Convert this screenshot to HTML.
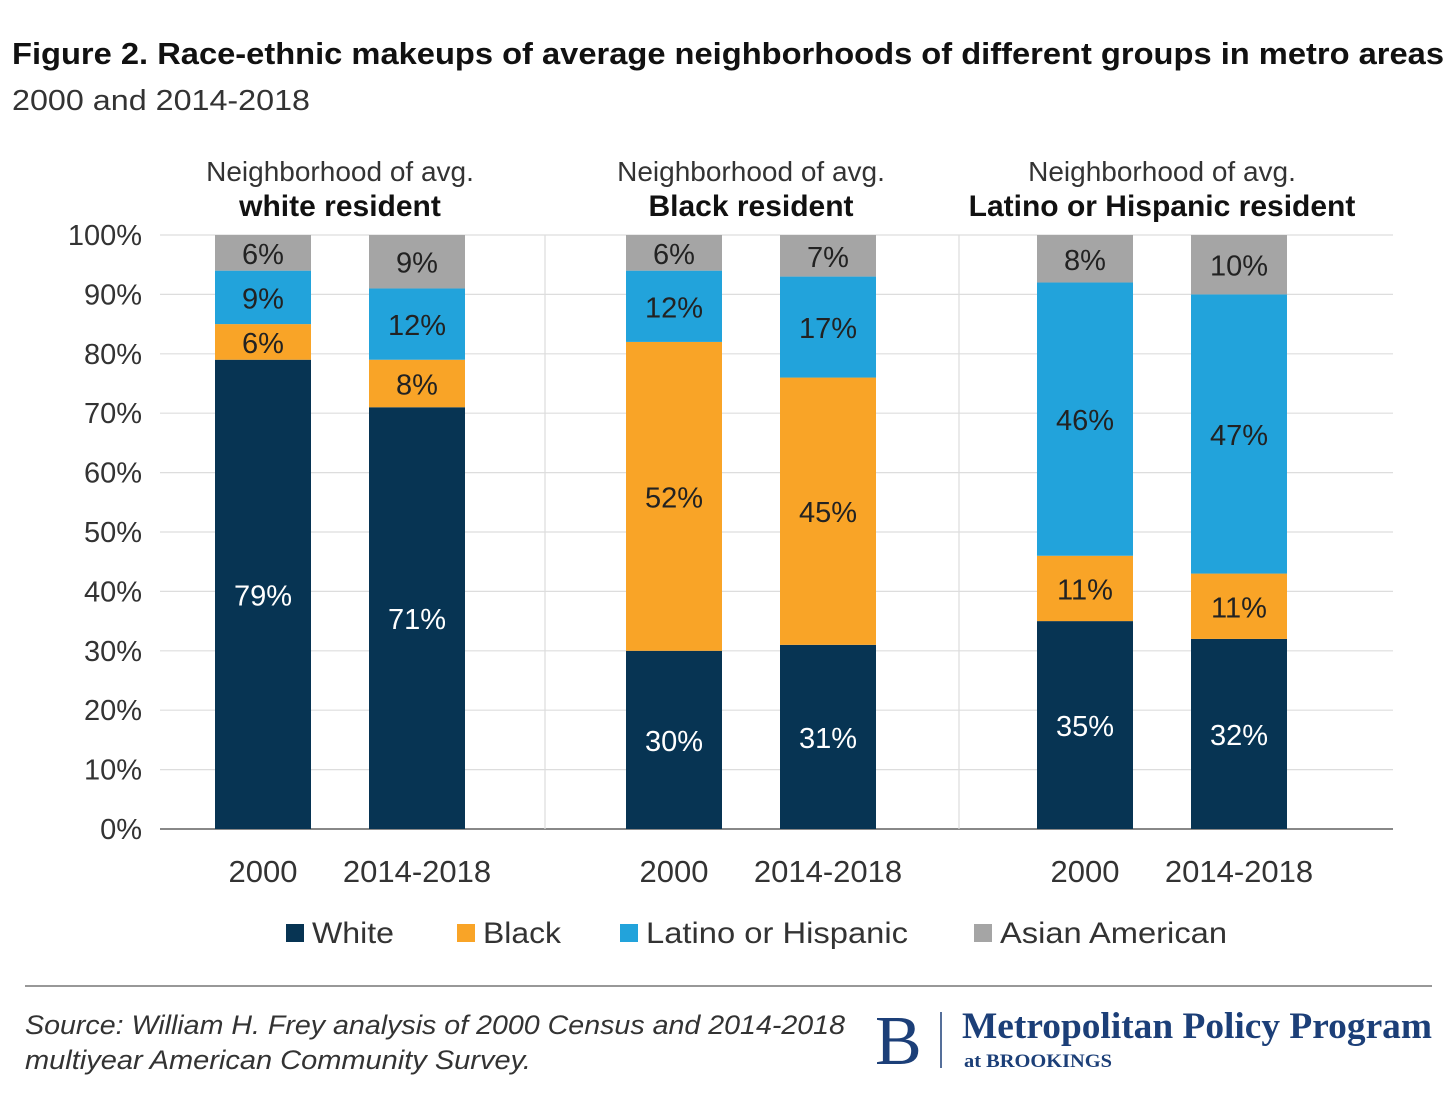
<!DOCTYPE html>
<html><head><meta charset="utf-8">
<style>
body{margin:0;background:#fff;width:1456px;height:1104px;overflow:hidden;font-family:"Liberation Sans",sans-serif;color:#222}
svg text{font-family:"Liberation Sans",sans-serif}
</style></head>
<body>
<svg id="chart" width="1456" height="1104" xmlns="http://www.w3.org/2000/svg">
<text x="12" y="64" font-size="31" font-weight="bold" fill="#111" textLength="1432" lengthAdjust="spacingAndGlyphs">Figure 2. Race-ethnic makeups of average neighborhoods of different groups in metro areas</text>
<text x="12" y="110" font-size="29" fill="#333" textLength="298" lengthAdjust="spacingAndGlyphs">2000 and 2014-2018</text>
<g id="grid"></g>
<g id="bars"></g>
<g id="labels"></g>
<g font-size="30" fill="#333">
<rect x="286" y="924" width="18" height="18" fill="#073453"/><text x="312" y="943" textLength="82" lengthAdjust="spacingAndGlyphs">White</text>
<rect x="457" y="924" width="18" height="18" fill="#F9A427"/><text x="483" y="943" textLength="78" lengthAdjust="spacingAndGlyphs">Black</text>
<rect x="620" y="924" width="18" height="18" fill="#22A3DB"/><text x="646" y="943" textLength="262" lengthAdjust="spacingAndGlyphs">Latino or Hispanic</text>
<rect x="974" y="924" width="18" height="18" fill="#A5A5A5"/><text x="1000" y="943" textLength="227" lengthAdjust="spacingAndGlyphs">Asian American</text>
</g>
<line x1="25" y1="986" x2="1432" y2="986" stroke="#777" stroke-width="1.5"/>
<text x="25" y="1034" font-size="27" font-style="italic" fill="#333" textLength="820" lengthAdjust="spacingAndGlyphs">Source: William H. Frey analysis of 2000 Census and 2014-2018</text>
<text x="25" y="1069" font-size="27" font-style="italic" fill="#333" textLength="506" lengthAdjust="spacingAndGlyphs">multiyear American Community Survey.</text>
<g>
<text x="875" y="1064" font-size="70" fill="#1c3f78" style="font-family:'Liberation Serif',serif">B</text>
<line x1="941" y1="1012" x2="941" y2="1068" stroke="#1c3f78" stroke-width="1.5"/>
<text x="962" y="1038" font-size="37" font-weight="bold" fill="#1c3f78" style="font-family:'Liberation Serif',serif" textLength="470" lengthAdjust="spacingAndGlyphs">Metropolitan Policy Program</text>
<text x="964" y="1067" font-size="19" font-weight="bold" fill="#1c3f78" style="font-family:'Liberation Serif',serif" textLength="148" lengthAdjust="spacingAndGlyphs">at BROOKINGS</text>
</g>
</svg>
<script>
const categories = ["2000","2014-2018","2000","2014-2018","2000","2014-2018"];
const groupTitles = ["white resident","Black resident","Latino or Hispanic resident"];
const whiteVals = [79,71,30,31,35,32];
const blackVals = [6,8,52,45,11,11];
const latinoVals = [9,12,12,17,46,47];
const asianVals = [6,9,6,7,8,10];
const tickLabels = ["0%","10%","20%","30%","40%","50%","60%","70%","80%","90%","100%"];
const tickValues = [0,10,20,30,40,50,60,70,80,90,100];

const NS="http://www.w3.org/2000/svg";
const y0=829, y100=235, xL=160, xR=1393;
function y(v){return y0-(y0-y100)*v/100;}
const centers=[263,417,674,828,1085,1239];
const bw=96;
function mk(parent,tag,attrs,txt){const e=document.createElementNS(NS,tag);for(const k in attrs)e.setAttribute(k,attrs[k]);if(txt!==undefined)e.textContent=txt;document.getElementById(parent).appendChild(e);return e;}

tickValues.forEach((v,i)=>{
  const l=mk('grid','line',{x1:xL,x2:xR,y1:y(v),y2:y(v),stroke:v===0?'#888':'#ddd','stroke-width':v===0?2:1.2});
  
  
  const t=mk('labels','text',{x:142,y:y(v)+10,'text-anchor':'end','font-size':29,fill:'#333'},tickLabels[i]);
  
  
});
[545,959].forEach(x=>{
  const l=mk('grid','line',{x1:x,x2:x,y1:y100,y2:y0,stroke:'#ddd','stroke-width':1.2});
  
  
});
const series=[[whiteVals,'#073453','#fff','white'],[blackVals,'#F9A427','#222','black'],[latinoVals,'#22A3DB','#222','latino'],[asianVals,'#A5A5A5','#222','asian']];
categories.forEach((c,i)=>{
  let cum=0;const cx=centers[i];
  series.forEach(s=>{
    const v=s[0][i];
    const top=y(cum+v),bot=y(cum);
    const r=mk('bars','rect',{x:cx-bw/2,y:top,width:bw,height:bot-top,fill:s[1]});
    
    
    const t=mk('labels','text',{x:cx,y:(top+bot)/2+11,'text-anchor':'middle','font-size':29,fill:s[2]},v+'%');
    
    
    cum+=v;
  });
  const t=mk('labels','text',{x:cx,y:882,'text-anchor':'middle','font-size':31,fill:'#333'},c);
  
  
});
groupTitles.forEach((g,i)=>{
  const cx=(centers[2*i]+centers[2*i+1])/2;
  const a=mk('labels','text',{x:cx,y:181,'text-anchor':'middle','font-size':28,fill:'#333'},'Neighborhood of avg.');
  
  
  const b=mk('labels','text',{x:cx,y:216,'text-anchor':'middle','font-size':30,'font-weight':'bold',fill:'#111'},g);
  
  
});
</script>
</body></html>
